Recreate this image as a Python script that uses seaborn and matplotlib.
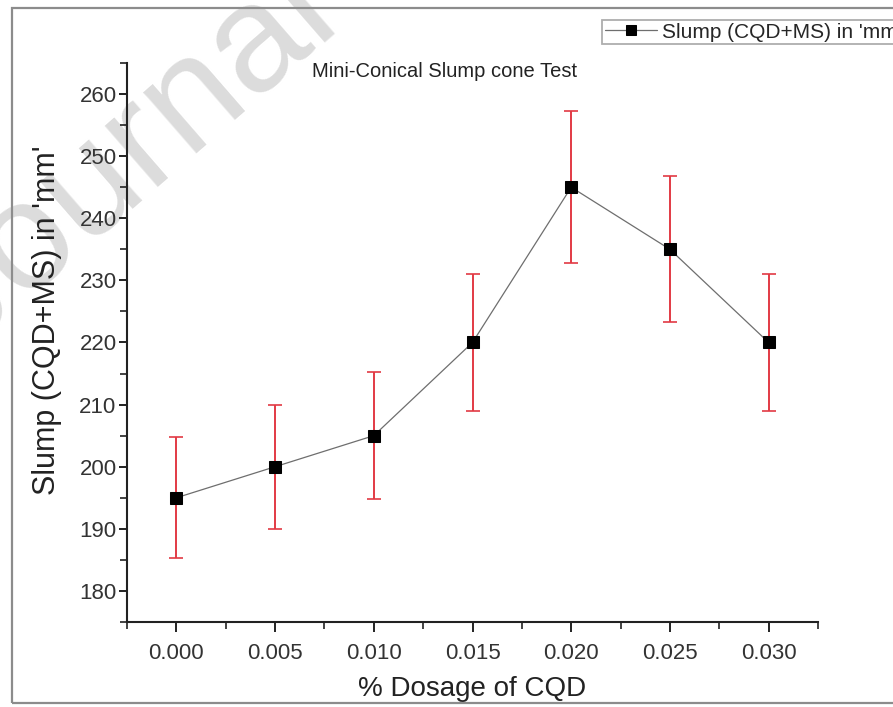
import matplotlib
matplotlib.use('Agg')
import matplotlib.pyplot as plt
import matplotlib.patches as patches
from matplotlib.ticker import MultipleLocator, FormatStrFormatter
import seaborn as sns
import pandas as pd

dosage = [0.000, 0.005, 0.010, 0.015, 0.020, 0.025, 0.030]
slump = [195, 200, 205, 220, 245, 235, 220]
slump_err = [9.75, 10, 10.25, 11, 12.25, 11.75, 11]

df = pd.DataFrame({'dosage': dosage, 'slump': slump, 'err': slump_err})

sns.set_theme(style='ticks')
plt.rcParams['font.family'] = ['Liberation Sans', 'DejaVu Sans']

fig = plt.figure(figsize=(8.93, 7.07), dpi=100)
W, H = 893, 707

# faint watermark, behind the axes
fig.text(-35 / W, 352 / H, 'Journal Pre-proof', fontsize=110, color='#dcdcdc',
         rotation=41, rotation_mode='anchor', ha='left', va='baseline', zorder=-1)

# outer grey frame
fig.patches.append(patches.Rectangle((12 / W, 1 - 703 / H), 900 / W, (703 - 8) / H,
                                     transform=fig.transFigure, fill=False,
                                     edgecolor='#8c8c8c', lw=1.6, zorder=1))

ax = fig.add_axes([127 / W, 1 - 622 / H, (818 - 127) / W, (622 - 63) / H])
ax.patch.set_alpha(0)

ax.errorbar(df['dosage'], df['slump'], yerr=df['err'], fmt='none',
            ecolor='#e23a44', elinewidth=1.4, capsize=5, capthick=1.2, zorder=2)
sns.lineplot(data=df, x='dosage', y='slump', ax=ax, color='#6e6e6e', lw=0.9,
             marker='s', markersize=9, markerfacecolor='black',
             markeredgecolor='black', label="Slump (CQD+MS) in 'mm'", zorder=3)

ax.set_xlim(-0.0025, 0.0325)
ax.set_ylim(175, 265)
ax.xaxis.set_major_locator(MultipleLocator(0.005))
ax.xaxis.set_minor_locator(MultipleLocator(0.0025))
ax.xaxis.set_major_formatter(FormatStrFormatter('%.3f'))
ax.yaxis.set_major_locator(MultipleLocator(10))
ax.yaxis.set_minor_locator(MultipleLocator(5))

for s in ['top', 'right']:
    ax.spines[s].set_visible(False)
for s in ['left', 'bottom']:
    ax.spines[s].set_linewidth(1.5)
    ax.spines[s].set_color('#222222')

ax.tick_params(which='major', direction='out', length=6, width=1.4, colors='#222222',
               labelsize=16, labelcolor='#333333', pad=1.5)
ax.tick_params(axis='x', which='major', length=7, pad=8)
ax.tick_params(which='minor', direction='out', length=5, width=1.2, colors='#222222')

ax.set_xlabel('% Dosage of CQD', fontsize=20, color='#222222', labelpad=9)
ax.set_ylabel("Slump (CQD+MS) in 'mm'", fontsize=22, color='#222222')
ax.yaxis.set_label_coords(-0.094, 0.54)
ax.text(0.459, 0.984, 'Mini-Conical Slump cone Test', transform=ax.transAxes,
        fontsize=14.5, color='#222222', ha='center', va='center')

leg = ax.legend(loc='upper left', bbox_to_anchor=(602 / W, 1 - 20 / H),
                bbox_transform=fig.transFigure, fontsize=15, frameon=True,
                fancybox=False, edgecolor='#9a9a9a', handlelength=2.5,
                markerscale=0.8, borderpad=0.12, handletextpad=0.25,
                borderaxespad=0)
leg.get_frame().set_linewidth(1.3)

fig.savefig('out.png', dpi=100)
